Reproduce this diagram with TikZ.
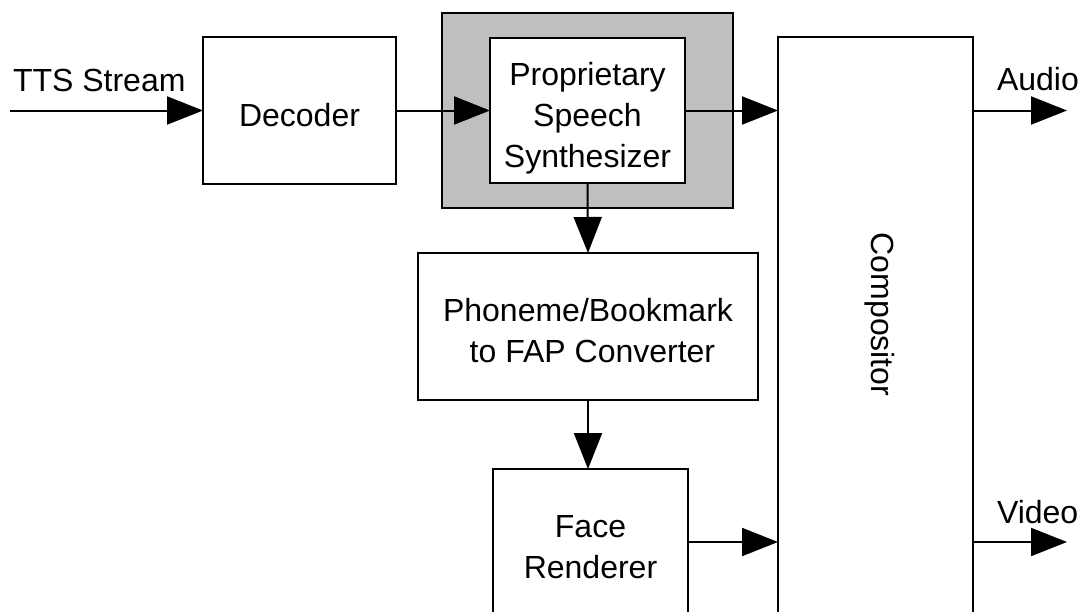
\documentclass[tikz,border=0pt]{standalone}
\usepackage{fontspec}
\setmainfont{Liberation Sans}
\usetikzlibrary{arrows.meta}
\newcommand{\tstrut}[1]{\rule{0pt}{#1}}
\newcommand{\bstrut}[1]{\rule[-#1]{0pt}{#1}}
\begin{document}
\begin{tikzpicture}[x=1pt,y=-1pt,
  every node/.style={font=\fontsize{32}{41}\selectfont, inner sep=0pt, outer sep=0pt},
  blk/.style={draw, line width=2pt, fill=white, align=center},
  conn/.style={line width=2pt, -{Triangle[length=36pt,width=28pt]}},
  lbl/.style={anchor=base west}]
\clip (0,0) rectangle (1082,611);
\fill[white] (0,0) rectangle (1082,611);
% blocks
\node[blk, minimum width=193pt, minimum height=147pt] (dec) at (299.5,110.5) {\tstrut{33pt}Decoder};
\node[draw, line width=2pt, fill=black!25, minimum width=291pt, minimum height=195pt] (gray) at (587.5,110.5) {};
\node[blk, minimum width=195pt, minimum height=145pt] (syn) at (587.5,110.5) {\tstrut{38pt}Proprietary\\Speech\\Synthesizer\bstrut{7pt}};
\node[blk, minimum width=195pt, minimum height=640pt] (comp) at (875.5,357) {};
\node[rotate=-90] (comptext) at (880,314.5) {Compositor};
\node[blk, minimum width=340pt, minimum height=147pt] (pho) at (588,326.5) {\tstrut{32pt}Phoneme/Bookmark\\\phantom{t}to FAP Converter};
\node[blk, minimum width=195pt, minimum height=146pt] (face) at (590.5,542) {\tstrut{33pt}Face\\Renderer};
% free ends
\coordinate (in) at (10,110.5);
\coordinate (audio) at (1067,110.5);
\coordinate (video) at (1067,542);
% connectors
\draw[conn] (in) -- (dec.west);
\draw[conn] (dec.east) -- (syn.west);
\draw[conn] (syn.east) -- (comp.west |- syn.east);
\draw[conn] (syn.south) -- (pho.north);
\draw[conn] (pho.south) -- (face.north -| pho.south);
\draw[conn] (face.east) -- (comp.west |- face.east);
\draw[conn] (comp.east |- audio) -- (audio);
\draw[conn] (comp.east |- video) -- (video);
% labels
\node[lbl] (ttsl) at (13,91) {TTS Stream};
\node[lbl] (audl) at (997,90) {Audio};
\node[lbl] (vidl) at (997,523) {Video};
\end{tikzpicture}
\end{document}
